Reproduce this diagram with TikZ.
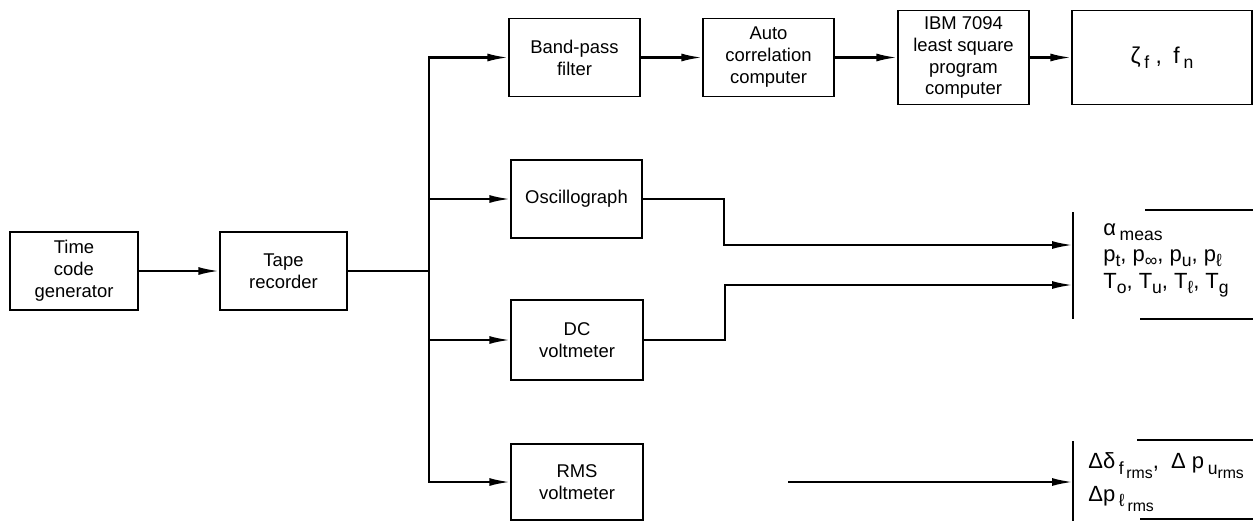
\documentclass[tikz,border=0pt]{standalone}
\usepackage{fontspec}
\setmainfont{Liberation Sans}
\setsansfont{Liberation Sans}
\usepackage{tikz}
\usetikzlibrary{arrows.meta, positioning, calc}
\newcommand{\sbs}[1]{\raisebox{-0.45ex}{\fontsize{10}{10}\selectfont #1}}
\newcommand{\sbss}[1]{\raisebox{-0.5ex}{\fontsize{9}{9}\selectfont #1}}

\begin{document}
\begin{tikzpicture}[>={Latex[length=4.2mm,width=1.6mm]},
  blk/.style={draw, line width=0.8pt, minimum width=2.62cm, minimum height=1.56cm, align=center, font=\fontsize{10.5}{12.5}\selectfont},
  wire/.style={line width=1.3pt},
  edge/.style={line width=0.8pt},
  lbl/.style={anchor=west, inner sep=0pt, font=\fontsize{12.5}{14}\selectfont}]
  \useasboundingbox (0,0) rectangle (25.06,-10.42);
  \node[blk, minimum width=2.56cm] (tcg) at (1.48,-5.42) {Time\\code\\generator};
  \node[blk, minimum width=2.54cm] (tape) at (5.67,-5.42) {Tape\\recorder};
  \node[blk] (bpf) at (11.49,-1.15) {Band-pass\\filter};
  \node[blk] (acc) at (15.37,-1.15) {Auto\\correlation\\computer};
  \node[blk, minimum height=1.86cm] (ibm) at (19.27,-1.15) {IBM 7094\\least square\\program\\computer};
  \node[blk, minimum width=3.6cm, minimum height=1.88cm, font=\fontsize{13}{15}\selectfont] (zeta) at (23.24,-1.15) {ζ\,\sbs{f}\ ,\enspace f\,\sbs{n}};
  \node[blk] (osc) at (11.53,-3.98) {Oscillograph};
  \node[blk, minimum width=2.64cm, minimum height=1.6cm] (dcv) at (11.54,-6.80) {DC\\voltmeter};
  \node[blk, minimum width=2.64cm, minimum height=1.52cm] (rms) at (11.54,-9.64) {RMS\\voltmeter};
  \coordinate (bus) at (8.58,-5.42);
  \coordinate (ain) at (21.46,-4.90);
  \coordinate (tin) at (21.46,-5.70);
  \coordinate (rout) at (15.76,-9.64);
  \coordinate (rin) at (21.46,-9.64);
  \draw[wire, ->] (tcg) -- (tape);
  \draw[wire] (tape) -- (bus);
  \draw[wire, ->] (bus) |- (bpf);
  \draw[wire, ->] (bus) |- (osc);
  \draw[wire, ->] (bus) |- (dcv);
  \draw[wire, ->] (bus) |- (rms);
  \draw[wire, ->] (bpf) -- (acc);
  \draw[wire, ->] (acc) -- (ibm);
  \draw[wire, ->] (ibm) -- (zeta);
  \draw[wire, ->] (osc.east) -- ++(1.62,0) |- (ain);
  \draw[wire, ->] (dcv.east) -- ++(1.62,0) |- (tin);
  \draw[wire, ->] (rout) -- (rin);
  \draw[edge] (21.46,-4.24) -- (21.46,-6.38);
  \draw[edge] (22.9,-4.2) -- (25.06,-4.2);
  \draw[edge] (22.8,-6.38) -- (25.06,-6.38);
  \draw[edge] (21.46,-8.82) -- (21.46,-10.42);
  \draw[edge] (22.74,-8.8) -- (25.06,-8.8);
  \draw[edge] (22.8,-10.38) -- (25.06,-10.38);
  \node[lbl] (meas) at (22.06,-4.64) {α\,\sbs{meas}};
  \node[lbl] (pres) at (22.06,-5.16) {p\sbs{t}, p\sbs{∞}, p\sbs{u}, p\sbs{ℓ}};
  \node[lbl] (temp) at (22.06,-5.70) {T\sbs{o}, T\sbs{u}, T\sbs{ℓ}, T\sbs{g}};
  \node[lbl] (drms) at (21.76,-9.32) {Δδ\,\sbs{f\sbss{\,rms}},\ \ Δ p\,\sbs{u\sbss{rms}}};
  \node[lbl] (prms) at (21.76,-9.98) {Δp\,\sbs{ℓ\,\sbss{rms}}};
\end{tikzpicture}
\end{document}
